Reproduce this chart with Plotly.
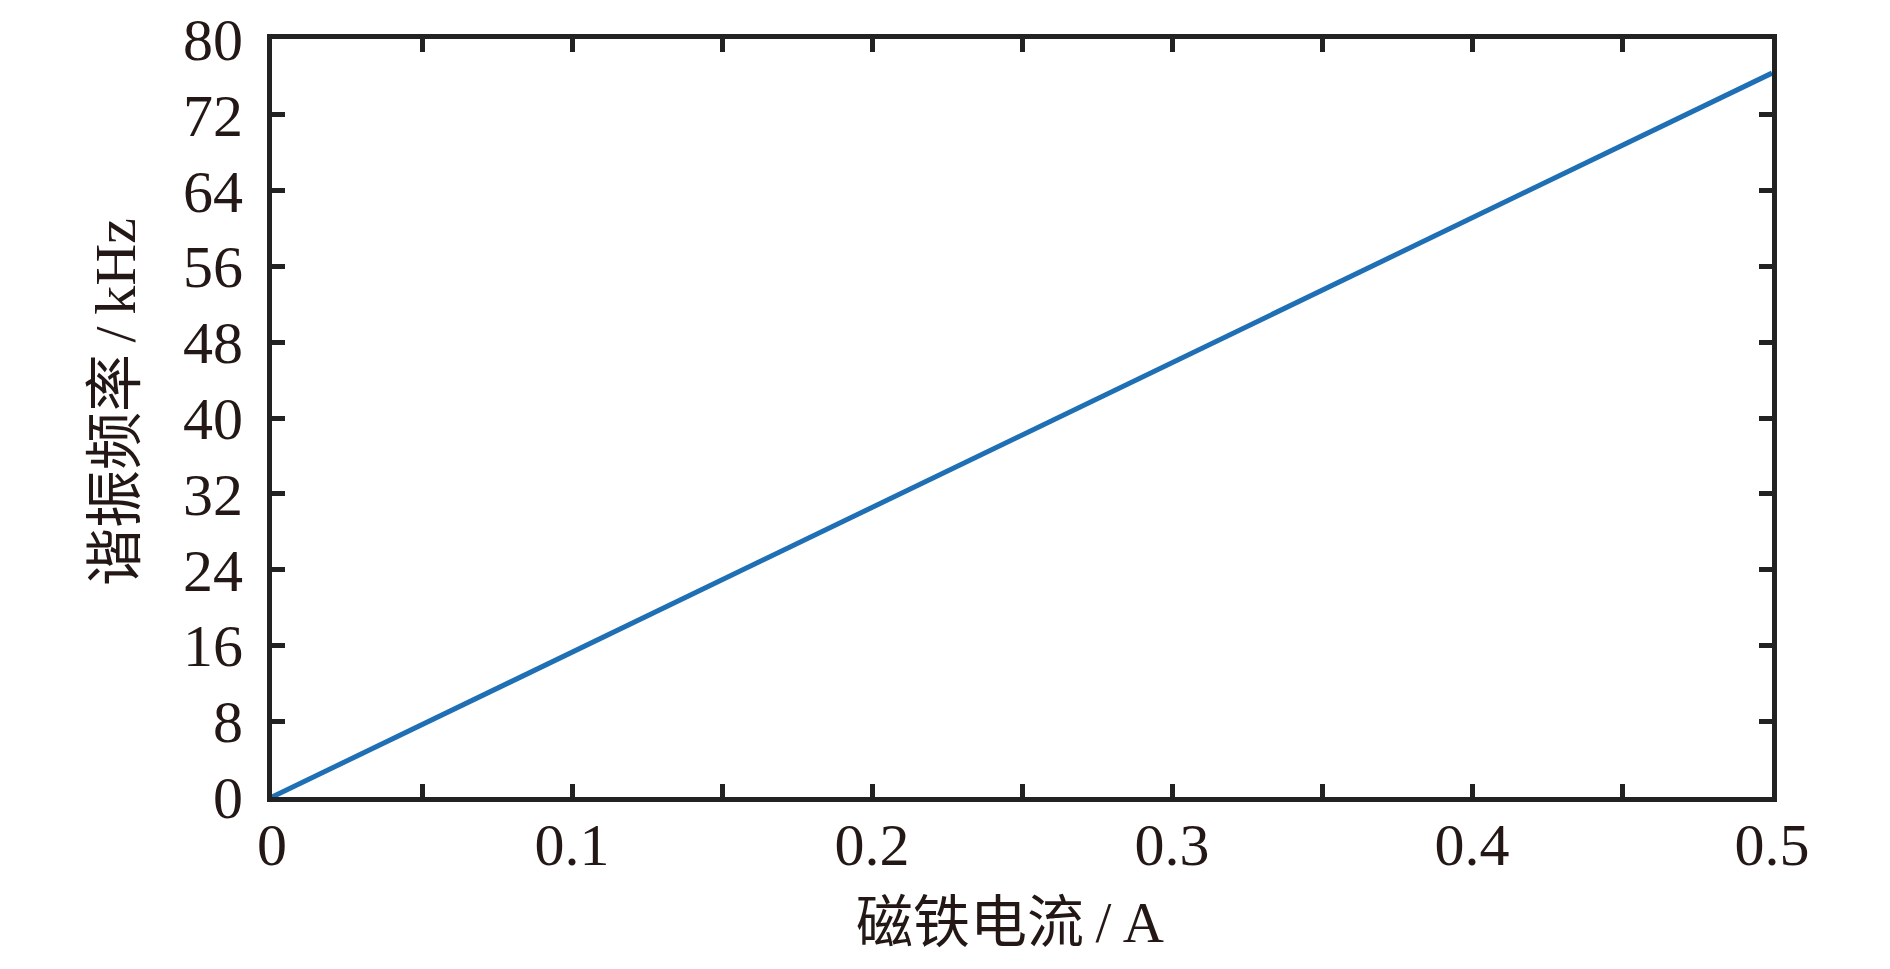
import plotly.graph_objects as go

current_A = [0.0, 0.1, 0.2, 0.3, 0.4, 0.5]
freq_kHz = [0.0, 15.3, 30.6, 45.8, 61.1, 76.4]

x_tickvals = [0, 0.05, 0.1, 0.15, 0.2, 0.25, 0.3, 0.35, 0.4, 0.45, 0.5]
x_ticktext = ["0", "", "0.1", "", "0.2", "", "0.3", "", "0.4", "", "0.5"]
y_tickvals = [0, 8, 16, 24, 32, 40, 48, 56, 64, 72, 80]
y_ticktext = [str(v) for v in y_tickvals]

x_title = "磁铁电流<span style=\"font-family:'Liberation Serif'\">\u2009/\u2009A</span>"
y_title = "谐振频率<span style=\"font-family:'Liberation Serif'\">\u2009/\u2009kHz</span>"

axis_color = "#222222"
text_color = "#231815"
serif = "Liberation Serif, DejaVu Serif, serif"
cjk = "Noto Sans CJK SC, Liberation Serif, serif"

fig = go.Figure()
fig.add_trace(go.Scatter(
    x=current_A, y=freq_kHz, mode="lines",
    line=dict(color="#1f6fb5", width=5),
    showlegend=False,
))

common = dict(
    showgrid=False, zeroline=False, showline=True, linecolor=axis_color,
    linewidth=5, mirror="ticks", ticks="inside", ticklen=13, tickwidth=5,
    tickcolor=axis_color, tickfont=dict(family=serif, size=60, color=text_color),
    tickmode="array", automargin=False, ticklabeloverflow="allow",
)

fig.update_xaxes(
    range=[0, 0.5], tickvals=x_tickvals, ticktext=x_ticktext,
    ticklabelstandoff=-9,
    **common,
)
fig.update_yaxes(
    range=[0, 80], tickvals=y_tickvals, ticktext=y_ticktext,
    ticklabelstandoff=12,
    **common,
)

fig.add_annotation(
    text=x_title, xref="paper", yref="paper", x=0.4917, y=-0.158,
    xanchor="center", yanchor="middle", showarrow=False,
    font=dict(family=cjk, size=57, color=text_color),
)
fig.add_annotation(
    text=y_title, xref="paper", yref="paper", x=-0.108, y=0.521,
    xanchor="center", yanchor="middle", showarrow=False, textangle=-90,
    font=dict(family=cjk, size=58, color=text_color),
)

fig.update_layout(
    width=1874, height=953,
    margin=dict(l=264, r=110, t=31, b=164),
    plot_bgcolor="white", paper_bgcolor="white",
)

fig.write_html("out.html")
